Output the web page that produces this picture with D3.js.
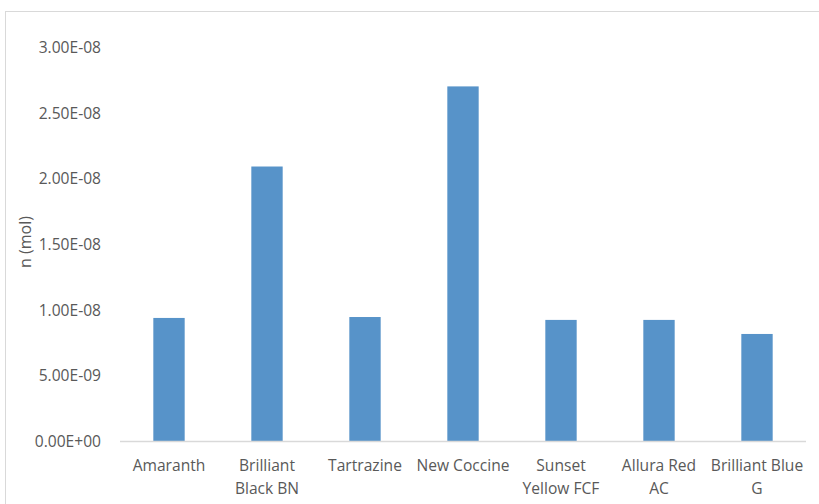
<!DOCTYPE html>
<html>
<head>
<meta charset="utf-8">
<script src="https://cdn.jsdelivr.net/npm/d3@7"></script>
<style>
  html, body { margin: 0; padding: 0; background: #fff; }
  svg { display: block; }
  text { font-family: "Open Sans", sans-serif; fill: #595959; }
</style>
</head>
<body>
<svg id="chart" width="819" height="504"></svg>
<script>
const categories = ["Amaranth", "Brilliant Black BN", "Tartrazine", "New Coccine", "Sunset Yellow FCF", "Allura Red AC", "Brilliant Blue G"];
const categoryLines = [["Amaranth"], ["Brilliant", "Black BN"], ["Tartrazine"], ["New Coccine"], ["Sunset", "Yellow FCF"], ["Allura Red", "AC"], ["Brilliant Blue", "G"]];
const values = [9.37e-9, 2.09e-8, 9.44e-9, 2.70e-8, 9.22e-9, 9.22e-9, 8.15e-9];
const yTicks = [0, 5e-9, 1e-8, 1.5e-8, 2e-8, 2.5e-8, 3e-8];
const yTitle = "n (mol)";

(function () {
const svg = d3.select("#chart");
const mLeft = 120, mRight = 806, mTop = 47, mBottom = 441;
const fs = 15.6;

// chart border
svg.append("rect")
  .attr("x", 5.5).attr("y", 11.5)
  .attr("width", 900).attr("height", 600)
  .attr("fill", "none").attr("stroke", "#d9d9d9").attr("stroke-width", 1);

const x = d3.scaleBand().domain(categories).range([mLeft, mRight]).paddingInner(0.68).paddingOuter(0.34);
const y = d3.scaleLinear().domain([0, 3e-8]).range([mBottom, mTop]);

// bars
svg.append("g").selectAll("rect").data(categories).join("rect")
  .attr("x", d => x(d))
  .attr("width", x.bandwidth())
  .attr("y", (d, i) => y(values[i]))
  .attr("height", (d, i) => y(0) - y(values[i]))
  .attr("fill", "#5793c9");

// y axis labels
const fmt = v => {
  if (v === 0) return "0.00E+00";
  const e = Math.floor(Math.log10(v) + 1e-9);
  const m = v / Math.pow(10, e);
  const es = e < 0 ? "-" + String(-e).padStart(2, "0") : "+" + String(e).padStart(2, "0");
  return m.toFixed(2) + "E" + es;
};
const yAxis = d3.axisLeft(y).tickValues(yTicks).tickFormat(fmt).tickSize(0).tickPadding(0);
const ya = svg.append("g").attr("transform", `translate(${101},0)`).call(yAxis);
ya.select(".domain").remove();
ya.selectAll("text").attr("font-family", "'Open Sans', sans-serif").attr("font-size", fs).attr("fill", "#595959").attr("dy", "0.36em");

// x axis
const xAxis = d3.axisBottom(x).tickSize(0).tickPadding(0);
const xa = svg.append("g").attr("transform", `translate(0,${mBottom})`).call(xAxis);
xa.select(".domain").attr("stroke", "#d9d9d9").attr("stroke-width", 1.3)
  .attr("d", `M${mLeft},0.5H${mRight}`);
xa.selectAll("text").attr("font-family", "'Open Sans', sans-serif").attr("font-size", fs).attr("fill", "#595959")
  .attr("y", 29.5).attr("dy", 0)
  .each(function(d) {
    const t = d3.select(this);
    const lines = categoryLines[categories.indexOf(d)];
    t.text(null);
    lines.forEach((l, i) => {
      t.append("tspan").attr("x", 0).attr("dy", i === 0 ? 0 : 23).text(l);
    });
  });

// y title
svg.append("text")
  .attr("transform", `translate(31,${242}) rotate(-90)`)
  .attr("text-anchor", "middle")
  .attr("font-size", 16)
  .text(yTitle);
})();
</script>
</body>
</html>
